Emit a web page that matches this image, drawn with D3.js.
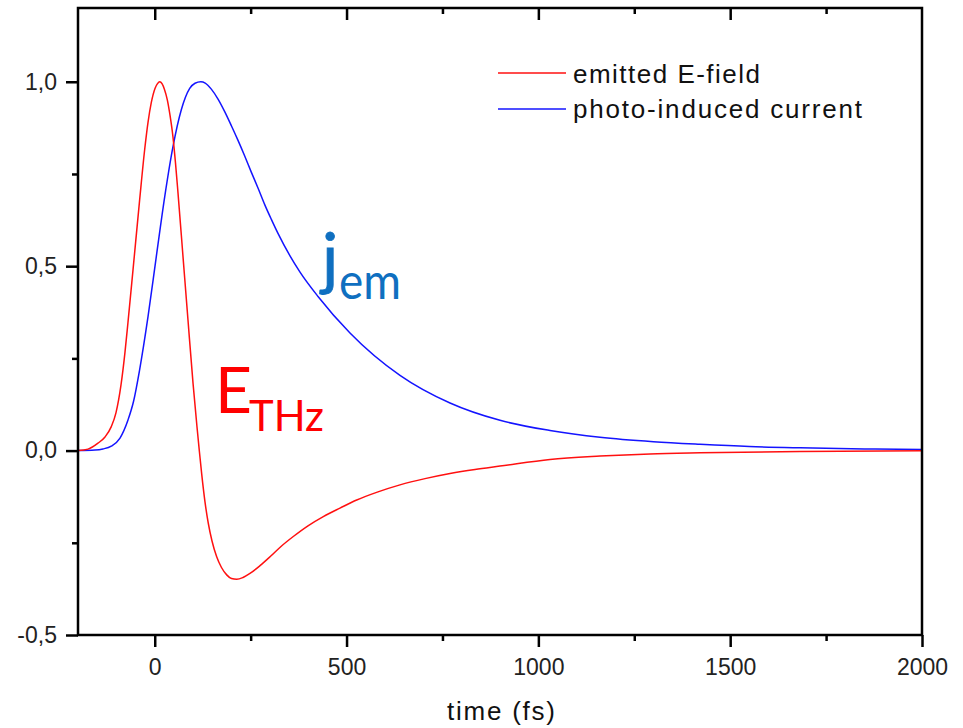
<!DOCTYPE html>
<html>
<head>
<meta charset="utf-8">
<script src="https://cdn.jsdelivr.net/npm/d3@7"></script>
<style>
  html, body { margin: 0; padding: 0; background: #ffffff; }
  svg { display: block; }
</style>
</head>
<body>
<svg id="chart" width="963" height="728"></svg>
<script>
// ---- data ----
// emitted THz field (normalised), time in fs
const fieldTime = [-200, -173.9, -147.9, -129.6, -113.2, -100.9, -87.9, -77.5, -69.7, -56.6, -39.2, -26.1, -17.5, -8.9, 0.7, 7.2, 13.0, 19.0, 25.2, 32.8, 39.7, 47.6, 54.1, 60.7, 73.7, 86.7, 99.8, 110.2, 116.2, 122.4, 131.0, 139.6, 149.3, 161.5, 174.0, 187.6, 200.1, 213.7, 230.1, 248.3, 274.4, 300.5, 329.1, 361.2, 399.5, 439.4, 482.9, 526.5, 582, 639.3, 704.5, 769.7, 834.8, 900, 1030.3, 1160.7, 1291, 1421.3, 1682, 2000];
const fieldValue = [0, 0.004, 0.020, 0.037, 0.065, 0.103, 0.178, 0.267, 0.348, 0.490, 0.681, 0.817, 0.890, 0.944, 0.982, 0.995, 1.0, 0.995, 0.980, 0.951, 0.910, 0.850, 0.780, 0.698, 0.526, 0.354, 0.183, 0.064, 0.0, -0.063, -0.139, -0.197, -0.245, -0.288, -0.317, -0.337, -0.347, -0.349, -0.344, -0.333, -0.312, -0.288, -0.260, -0.233, -0.204, -0.179, -0.156, -0.134, -0.112, -0.093, -0.076, -0.062, -0.051, -0.042, -0.024, -0.015, -0.009, -0.006, -0.0025, -0.0005];

// photo-induced current (normalised), time in fs
const currentTime = [-200, -155.7, -135, -113.2, -90.5, -69.7, -55.3, -39.4, -17.5, 4.1, 26, 47.6, 69.3, 91.2, 105, 120, 131.6, 147.5, 165, 182.4, 200.1, 217.1, 234, 251.7, 269.2, 286.7, 304, 321.3, 352.6, 378.7, 425.6, 509, 639.3, 769.7, 900, 1030.3, 1160.7, 1300, 1421.3, 1550, 1682, 1850, 2000];
const currentValue = [0, 0.0015, 0.0045, 0.012, 0.034, 0.083, 0.133, 0.219, 0.363, 0.526, 0.688, 0.824, 0.924, 0.982, 0.996, 1.0, 0.9965, 0.980, 0.953, 0.919, 0.880, 0.841, 0.800, 0.755, 0.712, 0.667, 0.627, 0.589, 0.528, 0.484, 0.418, 0.319, 0.204, 0.129, 0.082, 0.0545, 0.036, 0.024, 0.017, 0.011, 0.0075, 0.0045, 0.0028];

// axis ticks
const xMajorTicks = [0, 500, 1000, 1500, 2000];
const xMinorTicks = [250, 750, 1250, 1750];
const yMajorTicks = [-0.5, 0, 0.5, 1.0];
const yMinorTicks = [-0.25, 0.25, 0.75];

const seriesNames = ["emitted E-field", "photo-induced current"];
const seriesColors = ["#ff1010", "#1414ff"];
const xTitle = "time (fs)";

// ---- layout ----
const svg = d3.select("#chart");
const plot = { left: 78, right: 922, top: 8, bottom: 635 };

const x = d3.scaleLinear().domain([-200, 2000]).range([plot.left, plot.right]);
const y = d3.scaleLinear().domain([-0.5, 1.2]).range([plot.bottom, plot.top]);

const commaFmt = d3.formatLocale({ decimal: ",", thousands: "", grouping: [3], currency: ["", ""], minus: "-" }).format(".1f");

const tickFont = "'Liberation Sans', Arial, Helvetica, sans-serif";

function styleAxis(g) {
  g.select(".domain").remove();
  g.selectAll(".tick line").attr("stroke", "#000").attr("stroke-width", 2.5);
  g.selectAll(".tick text")
    .attr("font-family", tickFont)
    .attr("font-size", 23)
    .attr("fill", "#222");
}

// bottom axis: outward ticks
svg.append("g")
  .attr("transform", `translate(0,${plot.bottom})`)
  .call(d3.axisBottom(x).tickValues(xMajorTicks).tickSize(12).tickPadding(12).tickFormat(d3.format("d")))
  .call(styleAxis);
svg.append("g")
  .attr("transform", `translate(0,${plot.bottom})`)
  .call(d3.axisBottom(x).tickValues(xMinorTicks).tickSize(6).tickFormat(""))
  .call(styleAxis);

// top axis: inward ticks, no labels
svg.append("g")
  .attr("transform", `translate(0,${plot.top})`)
  .call(d3.axisTop(x).tickValues(xMajorTicks.filter(d => d < 2000)).tickSize(-12).tickFormat(""))
  .call(styleAxis);
svg.append("g")
  .attr("transform", `translate(0,${plot.top})`)
  .call(d3.axisTop(x).tickValues(xMinorTicks).tickSize(-6).tickFormat(""))
  .call(styleAxis);

// left axis: outward ticks
svg.append("g")
  .attr("transform", `translate(${plot.left},0)`)
  .call(d3.axisLeft(y).tickValues(yMajorTicks).tickSize(12).tickPadding(9).tickFormat(commaFmt))
  .call(styleAxis);
svg.append("g")
  .attr("transform", `translate(${plot.left},0)`)
  .call(d3.axisLeft(y).tickValues(yMinorTicks).tickSize(6).tickFormat(""))
  .call(styleAxis);

// ---- curves ----
svg.append("defs").append("clipPath").attr("id", "plot-clip")
  .append("rect")
  .attr("x", plot.left).attr("y", plot.top)
  .attr("width", plot.right - plot.left).attr("height", plot.bottom - plot.top);

const line = d3.line()
  .x(d => x(d[0]))
  .y(d => y(d[1]))
  .curve(d3.curveMonotoneX);

const fieldPts = fieldTime.map((t, i) => [t, fieldValue[i]]);
const currentPts = currentTime.map((t, i) => [t, currentValue[i]]);

const curves = svg.append("g").attr("clip-path", "url(#plot-clip)");
curves.append("path")
  .datum(currentPts)
  .attr("d", line)
  .attr("fill", "none")
  .attr("stroke", seriesColors[1])
  .attr("stroke-width", 1.5);
curves.append("path")
  .datum(fieldPts)
  .attr("d", line)
  .attr("fill", "none")
  .attr("stroke", seriesColors[0])
  .attr("stroke-width", 1.5);

// ---- frame ----
svg.append("rect")
  .attr("x", plot.left).attr("y", plot.top)
  .attr("width", plot.right - plot.left).attr("height", plot.bottom - plot.top)
  .attr("fill", "none")
  .attr("stroke", "#000")
  .attr("stroke-width", 2.5);

// ---- axis title ----
svg.append("text")
  .attr("x", 447).attr("y", 720)
  .attr("font-family", tickFont)
  .attr("font-size", 26)
  .attr("fill", "#111")
  .attr("textLength", 108)
  .attr("lengthAdjust", "spacing")
  .text(xTitle);

// ---- legend ----
const legendRows = [
  { name: seriesNames[0], color: seriesColors[0], ly: 73, ty: 83, len: 187 },
  { name: seriesNames[1], color: seriesColors[1], ly: 109, ty: 118, len: 289 }
];
const legend = svg.append("g");
legendRows.forEach(r => {
  legend.append("line")
    .attr("x1", 498).attr("x2", 566)
    .attr("y1", r.ly).attr("y2", r.ly)
    .attr("stroke", r.color).attr("stroke-width", 1.5);
  legend.append("text")
    .attr("x", 573).attr("y", r.ty)
    .attr("font-family", tickFont)
    .attr("font-size", 26)
    .attr("fill", "#111")
    .attr("textLength", r.len)
    .attr("lengthAdjust", "spacing")
    .text(r.name);
});

// ---- curve annotations ----
const annoFont = "Lato, 'Open Sans', sans-serif";
svg.append("text")
  .attr("x", 322).attr("y", 282)
  .attr("font-family", annoFont).attr("font-size", 68)
  .attr("fill", "#0f6fc0")
  .attr("stroke", "#0f6fc0").attr("stroke-width", 0.8)
  .text("j");
svg.append("text")
  .attr("x", 339).attr("y", 299)
  .attr("font-family", annoFont).attr("font-size", 50)
  .attr("fill", "#0f6fc0")
  .attr("textLength", 62).attr("lengthAdjust", "spacingAndGlyphs")
  .text("em");
svg.append("text")
  .attr("x", 215).attr("y", 413)
  .attr("font-family", annoFont).attr("font-size", 64)
  .attr("fill", "#ff0000")
  .text("E");
svg.append("text")
  .attr("x", 249).attr("y", 431)
  .attr("font-family", annoFont).attr("font-size", 43)
  .attr("fill", "#ff0000")
  .attr("textLength", 75).attr("lengthAdjust", "spacingAndGlyphs")
  .text("THz");
</script>
</body>
</html>
